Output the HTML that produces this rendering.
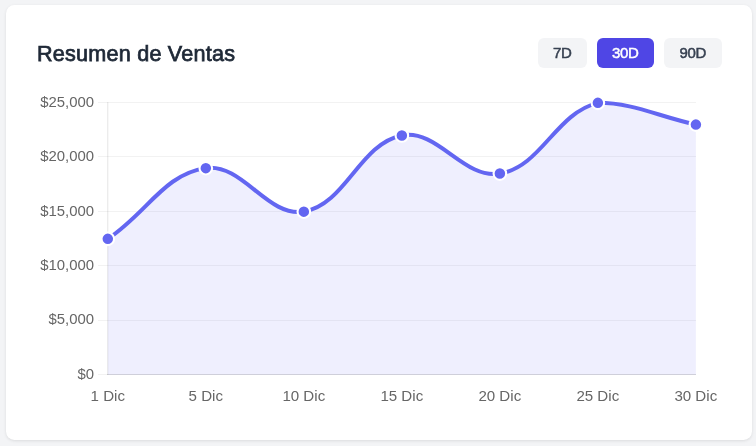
<!DOCTYPE html>
<html lang="es">
<head>
<meta charset="utf-8">
<title>Resumen de Ventas</title>
<style>
html,body{margin:0;padding:0;}
body{width:756px;height:446px;background:#f3f4f6;position:relative;overflow:hidden;font-family:"Liberation Sans",Arial,sans-serif;}
.card{position:absolute;left:6px;top:5px;width:746px;height:435px;background:#fff;border-radius:8.4px;box-shadow:0 1px 3.15px rgba(0,0,0,0.1);}
h2{position:absolute;margin:0;left:37px;top:38px;height:30px;line-height:30px;font-size:21.6px;font-weight:400;color:#1f2937;-webkit-text-stroke:0.75px #1f2937;transform:translateY(0.5px);white-space:nowrap;letter-spacing:0.22px;}
.btn{position:absolute;top:38px;height:30px;line-height:30px;border-radius:6px;background:#f3f4f6;color:#374151;font-size:15px;font-weight:400;-webkit-text-stroke:0.5px currentColor;letter-spacing:-0.3px;text-indent:-0.3px;text-align:center;}
.btn span{display:inline-block;transform:translateY(0.25px);}
.btn.active{background:#4f46e5;color:#fff;}
.chart{position:absolute;left:0;top:0;}
.xt{font-size:15.1px !important;}
.tick{font-family:"Liberation Sans",Arial,sans-serif;font-size:14.9px;fill:#666;}
</style>
</head>
<body>
<div class="card"></div>
<h2>Resumen de Ventas</h2>
<div class="btn" style="left:538px;width:49px;"><span>7D</span></div>
<div class="btn active" style="left:597px;width:57px;"><span>30D</span></div>
<div class="btn" style="left:664px;width:58px;"><span>90D</span></div>
<svg class="chart" width="756" height="446" viewBox="0 0 756 446">
<rect x="98" y="102" width="598" height="1" fill="#000" fill-opacity="0.05"/>
<rect x="98" y="156" width="598" height="1" fill="#000" fill-opacity="0.05"/>
<rect x="98" y="211" width="598" height="1" fill="#000" fill-opacity="0.05"/>
<rect x="98" y="265" width="598" height="1" fill="#000" fill-opacity="0.05"/>
<rect x="98" y="320" width="598" height="1" fill="#000" fill-opacity="0.05"/>
<rect x="98" y="374" width="598" height="1" fill="#000" fill-opacity="0.05"/>
<rect x="107.25" y="102" width="1.05" height="273" fill="#000" fill-opacity="0.1"/>
<rect x="107" y="374" width="589" height="1" fill="#000" fill-opacity="0.1"/>
<path d="M107.80,238.85 C147.01,212.86 164.27,173.89 205.82,168.13 C242.68,163.01 267.49,217.70 303.83,211.65 C345.90,204.65 359.40,143.74 401.85,135.49 C437.81,128.50 463.39,179.64 499.87,173.57 C541.80,166.59 555.05,113.55 597.88,102.85 C633.46,102.85 656.69,115.91 695.90,124.61 L695.9,374.85 L107.8,374.85 Z" fill="#6366f1" fill-opacity="0.1"/>
<path d="M107.80,238.85 C147.01,212.86 164.27,173.89 205.82,168.13 C242.68,163.01 267.49,217.70 303.83,211.65 C345.90,204.65 359.40,143.74 401.85,135.49 C437.81,128.50 463.39,179.64 499.87,173.57 C541.80,166.59 555.05,113.55 597.88,102.85 C633.46,102.85 656.69,115.91 695.90,124.61" fill="none" stroke="#6366f1" stroke-width="4" stroke-linecap="butt" stroke-linejoin="miter"/>
<circle cx="107.80" cy="238.85" r="6.3" fill="#6366f1" stroke="#fff" stroke-width="2.1"/>
<circle cx="205.82" cy="168.13" r="6.3" fill="#6366f1" stroke="#fff" stroke-width="2.1"/>
<circle cx="303.83" cy="211.65" r="6.3" fill="#6366f1" stroke="#fff" stroke-width="2.1"/>
<circle cx="401.85" cy="135.49" r="6.3" fill="#6366f1" stroke="#fff" stroke-width="2.1"/>
<circle cx="499.87" cy="173.57" r="6.3" fill="#6366f1" stroke="#fff" stroke-width="2.1"/>
<circle cx="597.88" cy="102.85" r="6.3" fill="#6366f1" stroke="#fff" stroke-width="2.1"/>
<circle cx="695.90" cy="124.61" r="6.3" fill="#6366f1" stroke="#fff" stroke-width="2.1"/>
<text x="94.1" y="106.8" text-anchor="end" class="tick">$25,000</text>
<text x="94.1" y="161.2" text-anchor="end" class="tick">$20,000</text>
<text x="94.1" y="215.6" text-anchor="end" class="tick">$15,000</text>
<text x="94.1" y="270.0" text-anchor="end" class="tick">$10,000</text>
<text x="94.1" y="324.4" text-anchor="end" class="tick">$5,000</text>
<text x="94.1" y="378.8" text-anchor="end" class="tick">$0</text>
<text x="107.80" y="400.6" text-anchor="middle" class="tick xt">1 Dic</text>
<text x="205.80" y="400.6" text-anchor="middle" class="tick xt">5 Dic</text>
<text x="303.80" y="400.6" text-anchor="middle" class="tick xt">10 Dic</text>
<text x="401.80" y="400.6" text-anchor="middle" class="tick xt">15 Dic</text>
<text x="499.80" y="400.6" text-anchor="middle" class="tick xt">20 Dic</text>
<text x="597.80" y="400.6" text-anchor="middle" class="tick xt">25 Dic</text>
<text x="695.80" y="400.6" text-anchor="middle" class="tick xt">30 Dic</text>
</svg>
</body>
</html>
